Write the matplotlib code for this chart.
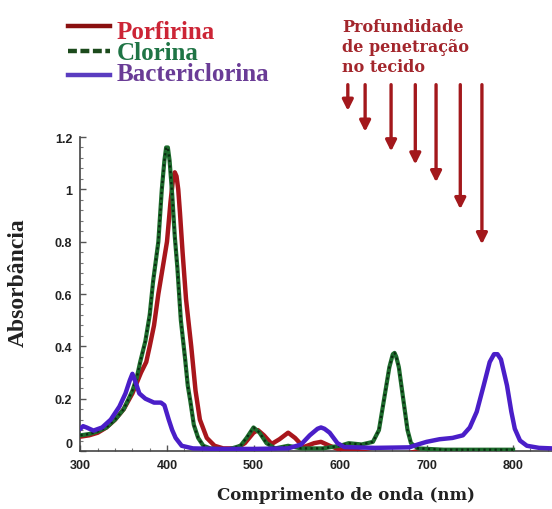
import matplotlib
matplotlib.use("Agg")
import matplotlib.pyplot as plt
from matplotlib.lines import Line2D
from matplotlib.patches import FancyArrowPatch
from matplotlib.transforms import ScaledTranslation

# Absorption spectra (wavelength in nm, absorbance)
porfirina_nm = [300, 310, 320, 330, 340, 350, 360, 365, 370, 376, 380, 385, 390, 395,
                400, 404, 407, 409, 411, 413, 415, 418, 422, 428, 433, 438, 446, 455, 465,
                480, 490, 500, 505, 512, 521, 530, 540, 548, 558, 570, 578, 588, 600, 620,
                640, 660, 680, 690]
porfirina_abs = [0.055, 0.06, 0.07, 0.09, 0.12, 0.16, 0.22, 0.26, 0.30, 0.34, 0.40, 0.48,
                 0.60, 0.70, 0.80, 0.95, 1.04, 1.065, 1.05, 1.0, 0.91, 0.76, 0.58, 0.40,
                 0.23, 0.12, 0.05, 0.02, 0.01, 0.01, 0.03, 0.07, 0.08, 0.06, 0.027, 0.045,
                 0.07, 0.05, 0.015, 0.03, 0.035, 0.02, 0.005, 0.0, -0.01, -0.01, -0.008, 0.0]

clorina_nm = [300, 310, 320, 330, 340, 350, 360, 365, 369, 375, 380, 384, 390, 394, 397,
              399, 401, 403, 406, 409, 412, 416, 421, 424, 427, 431, 436, 442, 450, 470,
              485, 492, 500, 507, 515, 525, 540, 555, 580, 600, 610, 625, 638, 645, 651,
              657, 661, 663, 665, 668, 673, 678, 682, 690, 720, 800]
clorina_abs = [0.06, 0.065, 0.075, 0.09, 0.12, 0.16, 0.23, 0.28, 0.34, 0.42, 0.52, 0.65,
               0.80, 1.0, 1.11, 1.16, 1.16, 1.11, 0.98, 0.82, 0.70, 0.50, 0.35, 0.25, 0.19,
               0.10, 0.05, 0.02, 0.01, 0.005, 0.02, 0.05, 0.09, 0.07, 0.03, 0.01, 0.02,
               0.01, 0.01, 0.02, 0.03, 0.025, 0.035, 0.08, 0.20, 0.32, 0.37, 0.375, 0.36,
               0.32, 0.20, 0.08, 0.03, 0.01, 0.005, 0.005]

bacterio_nm = [300, 303, 307, 315, 325, 335, 345, 352, 357, 360, 364, 368, 375, 385, 393,
               397, 402, 406, 410, 417, 430, 460, 500, 540, 555, 565, 574, 578, 582, 588,
               597, 605, 640, 680, 690, 700, 715, 730, 742, 750, 758, 766, 773, 778, 782,
               786, 793, 798, 802, 808, 816, 830, 845]
bacterio_abs = [0.085, 0.095, 0.09, 0.078, 0.09, 0.12, 0.17, 0.22, 0.27, 0.295, 0.26, 0.22,
                0.20, 0.185, 0.185, 0.175, 0.12, 0.08, 0.05, 0.02, 0.01, 0.008, 0.008,
                0.01, 0.025, 0.06, 0.085, 0.09, 0.085, 0.07, 0.03, 0.015, 0.012, 0.014,
                0.025, 0.035, 0.045, 0.05, 0.06, 0.09, 0.15, 0.25, 0.34, 0.37, 0.37, 0.35,
                0.25, 0.15, 0.085, 0.04, 0.02, 0.012, 0.01]

# Penetration-depth arrows: wavelength position, tip absorbance level
arrow_nm = [609, 629, 659, 687, 711, 739, 764]
arrow_tip = [1.30, 1.22, 1.145, 1.095, 1.027, 0.924, 0.79]
arrow_top = 1.40

series_labels = ["Porfirina", "Clorina", "Bactericlorina"]
xticks = [300, 400, 500, 600, 700, 800]
yticks = [0, 0.2, 0.4, 0.6, 0.8, 1.0, 1.2]
ytick_labels = ["0", "0.2", "0.4", "0.6", "0.8", "1", "1.2"]

RED = "#a8161c"
GREEN = "#1d6b2c"
PURPLE = "#4a1ec8"

fig = plt.figure(figsize=(5.52, 5.10), dpi=100)
ax = fig.add_axes([0.1458, 0.1137, 0.8542, 0.6157])

ax.plot(porfirina_nm, porfirina_abs, color=RED, lw=3.2, solid_capstyle="round",
        solid_joinstyle="round", zorder=3)
ax.plot(clorina_nm, clorina_abs, color=GREEN, lw=3.0, solid_joinstyle="round", zorder=4)
ax.plot(clorina_nm, clorina_abs, color="#0a2a10", lw=1.6, ls=(0, (1, 1.5)), zorder=4)
ax.plot(bacterio_nm, bacterio_abs, color=PURPLE, lw=3.2, solid_capstyle="round",
        solid_joinstyle="round", zorder=5)

ax.set_xlim(300, 845)
ax.set_ylim(0, 1.2)
ax.spines["top"].set_visible(False)
ax.spines["right"].set_visible(False)
for s in ("left", "bottom"):
    ax.spines[s].set_color("#444444")
    ax.spines[s].set_linewidth(1.2)

ax.set_xticks(xticks)
ax.set_xticklabels([str(t) for t in xticks])
ax.set_yticks(yticks)
ax.set_yticklabels(ytick_labels)
ax.set_xticks(range(300, 845, 20), minor=True)
ax.set_yticks([i * 0.04 for i in range(31)], minor=True)
ax.tick_params(which="major", direction="in", length=4, width=1, color="#555555",
               labelsize=9, labelcolor="#222222")
ax.tick_params(axis="x", which="major", pad=6)
ax.tick_params(axis="y", which="major", pad=6)
ax.tick_params(which="minor", direction="in", length=2, width=0.8, color="#777777")
for lab in ax.get_xticklabels() + ax.get_yticklabels():
    lab.set_fontfamily("Liberation Sans")
    lab.set_fontweight("bold")
# lift the "0" label a little so it clears the "300" below it
zero_lab = ax.get_yticklabels()[0]
zero_lab.set_transform(zero_lab.get_transform() + ScaledTranslation(0, 6 / 72, fig.dpi_scale_trans))

ax.set_xlabel("Comprimento de onda (nm)", fontfamily="DejaVu Serif", fontweight="bold",
              fontsize=12, color="#222222")
ax.xaxis.set_label_coords(0.563, -0.112)
ax.set_ylabel("Absorbância", fontfamily="Liberation Serif", fontweight="bold",
              fontsize=17, color="#222222")
ax.yaxis.set_label_coords(-0.110, 0.54)

# Penetration-depth arrows above the Q-band region
for xn, tip in zip(arrow_nm, arrow_tip):
    arr = FancyArrowPatch((xn, arrow_top), (xn, tip), arrowstyle="-|>", mutation_scale=16,
                          color="#a3181c", lw=2.4, clip_on=False, shrinkA=0, shrinkB=0)
    ax.add_patch(arr)

fig.text(0.620, 0.962, "Profundidade\nde penetração\nno tecido", fontfamily="DejaVu Serif",
         fontweight="bold", fontsize=11.5, color="#a3262c", va="top", ha="left",
         linespacing=1.2)

# Legend drawn in figure coordinates
legend_line_colors = ["#8a1010", "#1c4a1c", "#5a3cc0"]
legend_line_styles = ["-", (0, (2, 0.8)), "-"]
legend_text_colors = ["#cc2536", "#1f7445", "#6a3c96"]
legend_line_y = [0.947, 0.898, 0.851]
legend_text_y = [0.937, 0.896, 0.853]
for lab, lc, ls, tc, ly, ty in zip(series_labels, legend_line_colors, legend_line_styles,
                                   legend_text_colors, legend_line_y, legend_text_y):
    fig.add_artist(Line2D([0.123, 0.200], [ly, ly], color=lc, lw=3.2, ls=ls,
                          transform=fig.transFigure))
    fig.text(0.212, ty, lab, fontfamily="Liberation Serif", fontweight="bold",
             fontsize=18, color=tc, va="center", ha="left")

fig.savefig("out.png", dpi=100)
